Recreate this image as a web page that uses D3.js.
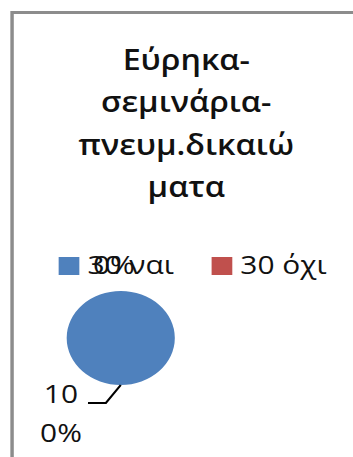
<!DOCTYPE html>
<html>
<head>
<meta charset="utf-8">
<script src="https://cdn.jsdelivr.net/npm/d3@7"></script>
<style>
  body { margin: 0; background: #fff; }
  svg { display: block; }
</style>
</head>
<body>
<div id="chart"></div>
<script>
// data
var titleLines = ["Εύρηκα-", "σεμινάρια-", "πνευμ.δικαιώ", "ματα"];
var categories = ["30 ναι", "30 όχι"];
var values = [30, 0];
var colors = ["#4F81BD", "#C0504D"];

var W = 353, H = 457;
var sx = 1.15; // the picture is stretched sideways
var innerW = W / sx;

var svg = d3.select("#chart").append("svg")
    .attr("width", W)
    .attr("height", H);

var g = svg.append("g")
    .attr("transform", "scale(" + sx + ",1)");

// frame (runs off the right and bottom)
g.append("rect")
    .attr("x", 10.5)
    .attr("y", 12.5)
    .attr("width", innerW + 20)
    .attr("height", H + 20)
    .attr("fill", "none")
    .attr("stroke", "#8c8c8c")
    .attr("stroke-width", 3);

// title
var title = g.append("text")
    .attr("text-anchor", "middle")
    .attr("font-family", "'Open Sans', sans-serif")
    .attr("font-weight", 600)
    .attr("font-size", 28)
    .attr("fill", "#111");

title.selectAll("tspan")
    .data(titleLines)
  .enter().append("tspan")
    .attr("x", 162)
    .attr("y", function(d, i) { return 70 + i * 42.3; })
    .text(function(d) { return d; });

// legend
var legend = g.append("g")
    .attr("font-family", "'Open Sans', sans-serif")
    .attr("font-size", 26)
    .selectAll("g")
    .data(categories)
  .enter().append("g")
    .attr("transform", function(d, i) { return "translate(" + (51 + i * 133) + ",257)"; });

legend.append("rect")
    .attr("width", 18)
    .attr("height", 18)
    .attr("fill", function(d, i) { return colors[i]; });

legend.append("text")
    .attr("x", 25)
    .attr("y", 17)
    .attr("fill", "#111")
    .text(function(d) { return d; });

// pie
var r = 47;
var pieG = g.append("g")
    .attr("transform", "translate(105,338)");

var total = d3.sum(values);
var pie = d3.pie().sort(null)(values);
var arc = d3.arc().innerRadius(0).outerRadius(r);
var pct = d3.format(".0%");

pieG.selectAll("path")
    .data(pie)
  .enter().append("path")
    .attr("d", arc)
    .attr("fill", function(d, i) { return colors[i]; });

// data labels
pie.forEach(function(d, i) {
  var a = (d.startAngle + d.endAngle) / 2;
  var label = pct(d.value / total);
  var px = Math.sin(a) * r, py = -Math.cos(a) * r;
  if (d.value > 0) {
    // leader line + wrapped label
    var ex = px - 13, ey = py + 18;
    pieG.append("path")
      .attr("d", "M" + px + "," + py + "L" + ex + "," + ey + "L" + (ex - 15.5) + "," + ey)
      .attr("fill", "none")
      .attr("stroke", "#000")
      .attr("stroke-width", 2);
    var lines = [label.slice(0, 2), label.slice(2)];
    var t = pieG.append("text")
      .attr("text-anchor", "middle")
      .attr("font-family", "'Open Sans', sans-serif")
      .attr("font-size", 26)
      .attr("fill", "#111");
    t.selectAll("tspan").data(lines).enter().append("tspan")
      .attr("x", ex - 39)
      .attr("y", function(s, j) { return ey + j * 39; })
      .text(function(s) { return s; });
  } else {
    pieG.append("text")
      .attr("text-anchor", "middle")
      .attr("font-family", "'Open Sans', sans-serif")
      .attr("font-size", 26)
      .attr("fill", "#111")
      .attr("x", px - 6)
      .attr("y", py - 17)
      .text(label);
  }
});
</script>
</body>
</html>
